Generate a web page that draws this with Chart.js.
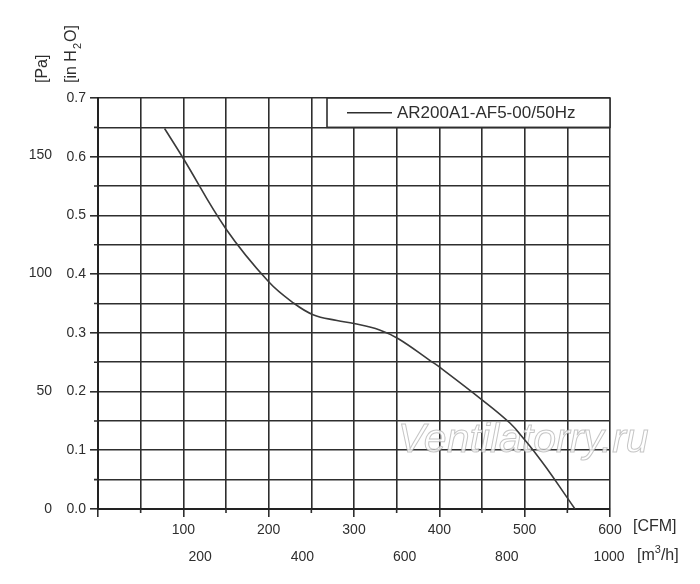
<!DOCTYPE html>
<html>
<head>
<meta charset="utf-8">
<script src="https://cdn.jsdelivr.net/npm/chart.js@4/dist/chart.umd.min.js"></script>
<style>
  html, body { margin: 0; padding: 0; background: #fff; }
  #wrap { width: 700px; height: 584px; }
</style>
</head>
<body>
<div id="wrap"><canvas id="chart" width="700" height="584"></canvas></div>
<script>
// Fan curve AR200A1-AF5-00/50Hz
const flowCfm = [78, 100, 150, 200, 230, 252, 280, 300, 330, 352, 390, 400, 450, 483, 500, 510, 530, 549, 559];
const pressureInH2O = [0.648, 0.597, 0.477, 0.387, 0.350, 0.331, 0.321, 0.316, 0.305, 0.290, 0.252, 0.242, 0.186, 0.146, 0.118, 0.100, 0.061, 0.021, 0.0];

// Tick labels shown on the four axes
const cfmLabels = [100, 200, 300, 400, 500, 600];
const m3hLabels = [200, 400, 600, 800, 1000];
const inH2OLabels = [0.0, 0.1, 0.2, 0.3, 0.4, 0.5, 0.6, 0.7];
const paLabels = [0, 50, 100, 150];

const seriesName = 'AR200A1-AF5-00/50Hz';
const M3H_AXIS_MAX = 1002;   // the drawing maps 0..600 CFM onto about 0..1000 m3/h
const INH2O_TO_PA = 249.089;

const ink = '#2e2e2e';
const font = 'Liberation Sans, Arial, sans-serif';

const isMajorX = v => v % 100 === 0;
const isMajorY = v => inH2OLabels.some(t => Math.abs(t - v) < 1e-6);

// Watermark, short minor ticks, legend box and unit titles
const decorPlugin = {
    id: 'decor',
    beforeDatasetsDraw(chart) {
        const ctx = chart.ctx;
        ctx.save();
        ctx.font = 'italic 41px ' + font;
        ctx.textBaseline = 'alphabetic';
        ctx.fillStyle = 'rgba(255,255,255,0.8)';
        ctx.strokeStyle = 'rgba(150,150,150,0.55)';
        ctx.lineWidth = 1;
        ctx.fillText('Ventilatorry.ru', 398, 452);
        ctx.strokeText('Ventilatorry.ru', 398, 452);
        ctx.restore();
    },
    afterDraw(chart) {
        const ctx = chart.ctx;
        const area = chart.chartArea;
        const x = chart.scales.x;
        const y = chart.scales.y;
        ctx.save();

        // minor tick marks (half length)
        ctx.strokeStyle = ink;
        ctx.lineWidth = 1.6;
        ctx.beginPath();
        x.ticks.forEach(t => {
            if (!isMajorX(t.value)) {
                const px = x.getPixelForValue(t.value);
                ctx.moveTo(px, area.bottom);
                ctx.lineTo(px, area.bottom + 4);
            }
        });
        y.ticks.forEach(t => {
            if (!isMajorY(t.value)) {
                const py = y.getPixelForValue(t.value);
                ctx.moveTo(area.left, py);
                ctx.lineTo(area.left - 4, py);
            }
        });
        ctx.stroke();

        // legend box in the top right corner
        const boxTop = area.top;
        const boxBottom = y.getPixelForValue(0.65);
        const boxLeft = area.right - 283;
        ctx.fillStyle = '#fff';
        ctx.fillRect(boxLeft, boxTop, area.right - boxLeft, boxBottom - boxTop);
        ctx.strokeStyle = ink;
        ctx.lineWidth = 1.6;
        ctx.strokeRect(boxLeft, boxTop, area.right - boxLeft, boxBottom - boxTop);
        const midY = (boxTop + boxBottom) / 2;
        ctx.beginPath();
        ctx.moveTo(boxLeft + 20, midY);
        ctx.lineTo(boxLeft + 65, midY);
        ctx.stroke();
        ctx.fillStyle = ink;
        ctx.font = '17px ' + font;
        ctx.textBaseline = 'middle';
        ctx.textAlign = 'left';
        ctx.fillText(seriesName, boxLeft + 70, midY + 1);

        // units to the right of the x axes
        ctx.font = '16px ' + font;
        ctx.fillText('[CFM]', area.right + 23, area.bottom + 18);
        let ux = area.right + 27;
        const uy = area.bottom + 47;
        ctx.fillText('[m', ux, uy);
        ux += ctx.measureText('[m').width;
        ctx.font = '11px ' + font;
        ctx.fillText('3', ux, uy - 6);
        ux += ctx.measureText('3').width;
        ctx.font = '16px ' + font;
        ctx.fillText('/h]', ux, uy);

        // rotated titles above the y axes
        ctx.save();
        ctx.translate(43, 83);
        ctx.rotate(-Math.PI / 2);
        ctx.fillText('[Pa]', 0, 0);
        ctx.restore();

        ctx.save();
        ctx.translate(72, 83);
        ctx.rotate(-Math.PI / 2);
        let tx = 0;
        ctx.fillText('[in H', tx, 0);
        tx += ctx.measureText('[in H').width + 1;
        ctx.font = '11px ' + font;
        ctx.fillText('2', tx, 6);
        tx += ctx.measureText('2').width + 1;
        ctx.font = '16px ' + font;
        ctx.fillText('O]', tx, 0);
        ctx.restore();

        ctx.restore();
    }
};

const borderStyle = { color: '#222', width: 2 };

new Chart(document.getElementById('chart'), {
    type: 'scatter',
    data: {
        datasets: [{
            label: seriesName,
            data: flowCfm.map((x, i) => ({ x: x, y: pressureInH2O[i] })),
            showLine: true,
            borderColor: '#3a3a3a',
            borderWidth: 1.6,
            pointRadius: 0,
            tension: 0.4,
            xAxisID: 'x',
            yAxisID: 'y'
        }]
    },
    options: {
        responsive: false,
        animation: false,
        layout: { padding: { left: 10, right: 90, top: 98, bottom: 17 } },
        plugins: { legend: { display: false }, tooltip: { enabled: false } },
        scales: {
            x: {
                type: 'linear', position: 'bottom', weight: 0,
                min: 0, max: 600,
                grid: {
                    color: ink, lineWidth: 1.6, tickLength: 8,
                    tickColor: c => isMajorX(c.tick.value) ? ink : 'rgba(0,0,0,0)'
                },
                border: borderStyle,
                ticks: {
                    stepSize: 50, padding: 5, color: ink, maxRotation: 0, autoSkip: false,
                    font: { family: font, size: 14 },
                    callback: v => cfmLabels.includes(v) ? String(v) : ''
                },
                afterFit: s => { s.height = 28; }
            },
            x2: {
                type: 'linear', position: 'bottom', weight: 1,
                min: 0, max: M3H_AXIS_MAX,
                grid: { display: false, drawTicks: false }, border: { display: false },
                afterBuildTicks: s => { s.ticks = m3hLabels.map(v => ({ value: v })); },
                ticks: {
                    padding: 12, color: ink, maxRotation: 0, autoSkip: false,
                    font: { family: font, size: 14 },
                    callback: v => String(v)
                },
                afterFit: s => { s.height = 30; }
            },
            y: {
                type: 'linear', position: 'left', weight: 0,
                min: 0, max: 0.7,
                grid: {
                    color: ink, lineWidth: 1.6, tickLength: 8,
                    tickColor: c => isMajorY(c.tick.value) ? ink : 'rgba(0,0,0,0)'
                },
                border: borderStyle,
                ticks: {
                    stepSize: 0.05, padding: 4, color: ink, autoSkip: false,
                    font: { family: font, size: 14 },
                    callback: v => isMajorY(v) ? v.toFixed(1) : ''
                },
                afterFit: s => { s.width = 33; }
            },
            y2: {
                type: 'linear', position: 'left', weight: 1,
                min: 0, max: 0.7 * INH2O_TO_PA,
                grid: { display: false, drawTicks: false }, border: { display: false },
                afterBuildTicks: s => { s.ticks = paLabels.map(v => ({ value: v })); },
                ticks: {
                    padding: 13, color: ink, autoSkip: false,
                    font: { family: font, size: 14 },
                    callback: v => String(v)
                },
                afterFit: s => { s.width = 55; }
            }
        }
    },
    plugins: [decorPlugin]
});
</script>
</body>
</html>
